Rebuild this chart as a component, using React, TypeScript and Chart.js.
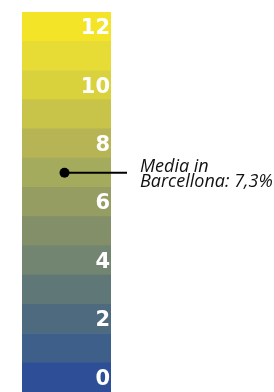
import React, { useEffect, useRef } from "react";
import { Chart, registerables } from "chart.js";

Chart.register(...registerables);

const bandValues = [0, 1, 2, 3, 4, 5, 6, 7, 8, 9, 10, 11, 12];
const bandColors = [
  "#2E4F97",
  "#3E5F89",
  "#4D6A7F",
  "#5F7777",
  "#718570",
  "#838F69",
  "#959D62",
  "#A5AB5C",
  "#B6B455",
  "#C8C44A",
  "#DAD23C",
  "#E7DC35",
  "#F4E428",
];
const tickValues = [0, 2, 4, 6, 8, 10, 12];
const category = ["Barcellona"];
const mediaValue = 7.3;
const mediaLabel = ["Media in", "Barcellona: " + String(mediaValue).replace(".", ",") + "%"];

export default function App() {
  const ref = useRef<HTMLCanvasElement | null>(null);

  useEffect(() => {
    if (!ref.current) return;

    const annotation = {
      id: "mediaAnnotation",
      afterDatasetsDraw(chart: any) {
        const ctx = chart.ctx;
        const yScale = chart.scales.y;
        const area = chart.chartArea;
        ctx.save();
        ctx.font = "bold 21px 'DejaVu Sans'";
        ctx.fillStyle = "#ffffff";
        ctx.textAlign = "right";
        ctx.textBaseline = "middle";
        tickValues.forEach((v) => {
          ctx.fillText(String(v), area.right - 1, yScale.getPixelForValue(v) + 2);
        });
        ctx.restore();

        const meta = chart.getDatasetMeta(bandValues.length);
        const pt = meta.data[0];
        if (!pt) return;
        const px = pt.x - 2;
        const py = pt.y;
        ctx.save();
        ctx.strokeStyle = "#000";
        ctx.lineWidth = 2;
        ctx.beginPath();
        ctx.moveTo(px, py);
        ctx.lineTo(127, py);
        ctx.stroke();
        ctx.fillStyle = "#000";
        ctx.beginPath();
        ctx.arc(px, py, 5, 0, Math.PI * 2);
        ctx.fill();
        ctx.font = "italic 18px 'Open Sans'";
        ctx.fillStyle = "#111";
        ctx.textAlign = "left";
        ctx.textBaseline = "alphabetic";
        ctx.fillText(mediaLabel[0], 140, py - 1);
        ctx.fillText(mediaLabel[1], 140, py + 14);
        ctx.restore();
      },
    };

    const datasets: any[] = bandValues.map((v, i) => ({
      type: "bar",
      label: String(v),
      data: [[v - 0.5, v + 0.5]],
      backgroundColor: bandColors[i],
      borderWidth: 0,
      barPercentage: 1,
      categoryPercentage: 1,
      grouped: false,
    }));
    datasets.push({
      type: "scatter",
      label: "media",
      data: [{ x: category[0], y: Math.round(mediaValue) }],
      backgroundColor: "rgba(0,0,0,0)",
      borderColor: "rgba(0,0,0,0)",
      pointRadius: 0,
    });

    const chart = new Chart(ref.current, {
      type: "bar",
      data: { labels: category, datasets },
      options: {
        animation: false,
        responsive: false,
        maintainAspectRatio: false,
        layout: { autoPadding: false, padding: { left: 22, right: 163, top: 12, bottom: 0 } },
        plugins: { legend: { display: false }, tooltip: { enabled: false } },
        scales: {
          x: { type: "category", display: false, offset: true, grid: { display: false } },
          y: {
            type: "linear",
            display: false,
            min: -0.5,
            max: 12.5,
          },
        },
      },
      plugins: [annotation],
    });
    return () => chart.destroy();
  }, []);

  return (
    <div style={{ position: "absolute", left: 0, top: 0, width: 274, height: 392, background: "#fff" }}>
      <canvas ref={ref} width={274} height={392} style={{ display: "block" }} />
    </div>
  );
}
